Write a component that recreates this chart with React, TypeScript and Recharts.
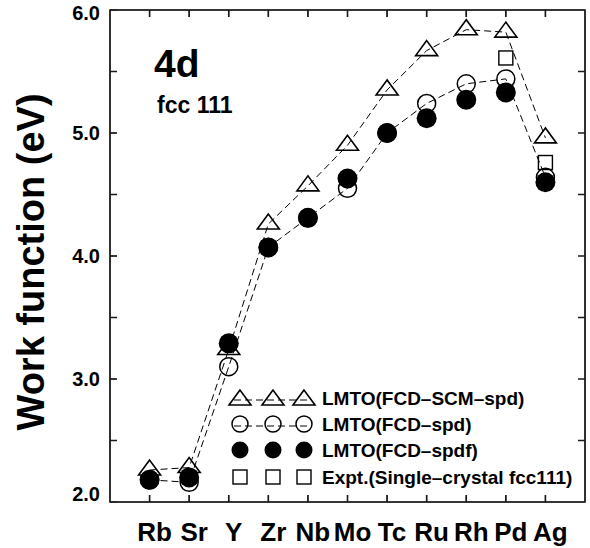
import { LineChart, Line, XAxis, YAxis, Customized } from "recharts";

const elements = ["Rb", "Sr", "Y", "Zr", "Nb", "Mo", "Tc", "Ru", "Rh", "Pd", "Ag"];
const scmSpd = [2.26, 2.28, 3.24, 4.26, 4.57, 4.9, 5.35, 5.67, 5.84, 5.82, 4.96];
const fcdSpd = [2.18, 2.16, 3.1, 4.07, 4.31, 4.55, 5.0, 5.24, 5.4, 5.44, 4.64];
const fcdSpdf = [2.18, 2.2, 3.29, 4.07, 4.31, 4.63, 5.0, 5.12, 5.27, 5.33, 4.6];
const expt = [null, null, null, null, null, null, null, null, null, 5.61, 4.76];
const yTicks = [2, 2.5, 3, 3.5, 4, 4.5, 5, 5.5, 6];
const xTicks = elements.map((_, i) => i + 1);
const xDomain = [0, 12];
const yDomain = [2, 6];

const legendLabels = [
  "LMTO(FCD\u2013SCM\u2013spd)",
  "LMTO(FCD\u2013spd)",
  "LMTO(FCD\u2013spdf)",
  "Expt.(Single\u2013crystal fcc111)",
];

const data = elements.map((name, i) => ({
  x: i + 1,
  name,
  scm: scmSpd[i],
  spd: fcdSpd[i],
  spdf: fcdSpdf[i],
  expt: expt[i],
}));

const FONT = '"Liberation Sans", Arial, Helvetica, sans-serif';
const INK = "#1a1a1a";
const MARGIN = { top: 9, right: 4, bottom: 0, left: 0 };
// plot box implied by the margins and axis sizes below
const PLOT = { left: 110, top: 10, right: 585, bottom: 502 };
const TICK = 7;

function Triangle({ cx, cy }: { cx: number; cy: number }) {
  return (
    <polygon
      points={`${cx},${cy - 10} ${cx - 11},${cy + 5} ${cx + 11},${cy + 5}`}
      fill="none"
      stroke="#000"
      strokeWidth={1.6}
    />
  );
}

function Square({ cx, cy }: { cx: number; cy: number }) {
  return <rect x={cx - 7} y={cy - 7} width={14} height={14} fill="none" stroke="#000" strokeWidth={1.4} />;
}

const triDot = (p: any) => {
  if (p.value == null) return <g key={`t-${p.index}`} />;
  return (
    <g key={`t-${p.index}`}>
      <Triangle cx={p.cx} cy={p.cy} />
    </g>
  );
};

const openDot = (p: any) => {
  if (p.value == null) return <g key={`o-${p.index}`} />;
  return <circle key={`o-${p.index}`} cx={p.cx} cy={p.cy} r={9} fill="none" stroke="#000" strokeWidth={1.5} />;
};

const fullDot = (p: any) => {
  if (p.value == null) return <g key={`f-${p.index}`} />;
  return <circle key={`f-${p.index}`} cx={p.cx} cy={p.cy} r={10} fill="#000" />;
};

const squareDot = (p: any) => {
  if (p.value == null || p.cy == null) return <g key={`s-${p.index}`} />;
  return (
    <g key={`s-${p.index}`}>
      <Square cx={p.cx} cy={p.cy} />
    </g>
  );
};

const EmptyTick = () => <g />;

const XTick = (props: any) => {
  const { x, y, payload } = props;
  return (
    <text x={x + 5} y={y + 46} textAnchor="middle" fontFamily={FONT} fontWeight="bold" fontSize={26} fill="#000">
      {elements[payload.value - 1]}
    </text>
  );
};

const YTick = (props: any) => {
  const { x, y, payload } = props;
  const v = payload.value as number;
  if (v % 1 !== 0) return <g />;
  return (
    <text
      x={x - 17}
      y={v === 2 ? y - 8 : v === 6 ? y + 3 : y}
      dy="0.36em"
      textAnchor="end"
      fontFamily={FONT}
      fontWeight="bold"
      fontSize={20}
      fill="#000"
    >
      {v.toFixed(1)}
    </text>
  );
};

// box with inward tick marks on all four sides, as one path
function Frame() {
  const sx = (v: number) => PLOT.left + ((v - xDomain[0]) / (xDomain[1] - xDomain[0])) * (PLOT.right - PLOT.left);
  const sy = (v: number) => PLOT.bottom - ((v - yDomain[0]) / (yDomain[1] - yDomain[0])) * (PLOT.bottom - PLOT.top);
  let d = `M${PLOT.left},${PLOT.top} L${PLOT.right},${PLOT.top} L${PLOT.right},${PLOT.bottom} L${PLOT.left},${PLOT.bottom} Z`;
  xTicks.forEach((t) => {
    const x = sx(t);
    d += ` M${x},${PLOT.bottom} L${x},${PLOT.bottom - TICK} M${x},${PLOT.top} L${x},${PLOT.top + TICK}`;
  });
  yTicks.forEach((t) => {
    const y = sy(t);
    d += ` M${PLOT.left},${y} L${PLOT.left + TICK},${y} M${PLOT.right},${y} L${PLOT.right - TICK},${y}`;
  });
  return <path d={d} fill="none" stroke={INK} strokeWidth={1.6} />;
}

function Annotations() {
  const rowY = [398, 424, 450, 477];
  const symX = [240, 273, 304];
  return (
    <g>
      <Frame />
      <g fontFamily={FONT} fontWeight="bold" fill="#000">
        <text x={31} y={262} transform="rotate(-90 31 262)" textAnchor="middle" dominantBaseline="central" fontSize={38}>
          Work function (eV)
        </text>
        <text x={154} y={77} fontSize={39}>
          4d
        </text>
        <text x={157} y={113} fontSize={23}>
          fcc 111
        </text>
        {legendLabels.map((label, r) => (
          <g key={label}>
            {r < 2 && (
              <path
                d={`M${symX[0] - 6},${rowY[r] + 2} L${symX[2] + 8},${rowY[r] + 2}`}
                fill="none"
                stroke="#000"
                strokeWidth={1}
                strokeDasharray="7 4"
              />
            )}
            {symX.map((x) => {
              if (r === 0) return <Triangle key={x} cx={x} cy={rowY[r] + 2} />;
              if (r === 1) return <circle key={x} cx={x} cy={rowY[r]} r={8} fill="none" stroke="#000" strokeWidth={1.5} />;
              if (r === 2) return <circle key={x} cx={x} cy={rowY[r]} r={8.5} fill="#000" />;
              return <Square key={x} cx={x} cy={rowY[r]} />;
            })}
            <text x={322} y={rowY[r]} dy="0.36em" fontSize={19}>
              {label}
            </text>
          </g>
        ))}
      </g>
    </g>
  );
}

export default function App() {
  return (
    <div style={{ position: "absolute", left: 0, top: 0 }}>
      <LineChart width={590} height={548} data={data} margin={MARGIN}>
        <XAxis
          xAxisId="b"
          dataKey="x"
          type="number"
          domain={xDomain}
          ticks={xTicks}
          height={46}
          tickSize={-TICK}
          tickMargin={0}
          tick={XTick}
          stroke={INK}
        />
        <XAxis
          xAxisId="t"
          dataKey="x"
          type="number"
          orientation="top"
          domain={xDomain}
          ticks={xTicks}
          height={1}
          tickSize={-TICK}
          tick={EmptyTick}
          stroke={INK}
        />
        <YAxis
          yAxisId="l"
          type="number"
          domain={yDomain}
          ticks={yTicks}
          width={110}
          tickSize={-TICK}
          tickMargin={0}
          tick={YTick}
          stroke={INK}
        />
        <YAxis
          yAxisId="r"
          orientation="right"
          type="number"
          domain={yDomain}
          ticks={yTicks}
          width={1}
          tickSize={-TICK}
          tick={EmptyTick}
          stroke={INK}
        />
        <Line
          xAxisId="b"
          yAxisId="l"
          dataKey="scm"
          stroke="#000"
          strokeWidth={1}
          strokeDasharray="7 4"
          dot={triDot}
          isAnimationActive={false}
        />
        <Line
          xAxisId="b"
          yAxisId="l"
          dataKey="spd"
          stroke="#000"
          strokeWidth={1}
          strokeDasharray="7 4"
          dot={openDot}
          isAnimationActive={false}
        />
        <Line xAxisId="b" yAxisId="l" dataKey="spdf" stroke="none" dot={fullDot} isAnimationActive={false} />
        <Line xAxisId="b" yAxisId="l" dataKey="expt" stroke="none" dot={squareDot} isAnimationActive={false} />
        <Customized component={Annotations} />
      </LineChart>
    </div>
  );
}
